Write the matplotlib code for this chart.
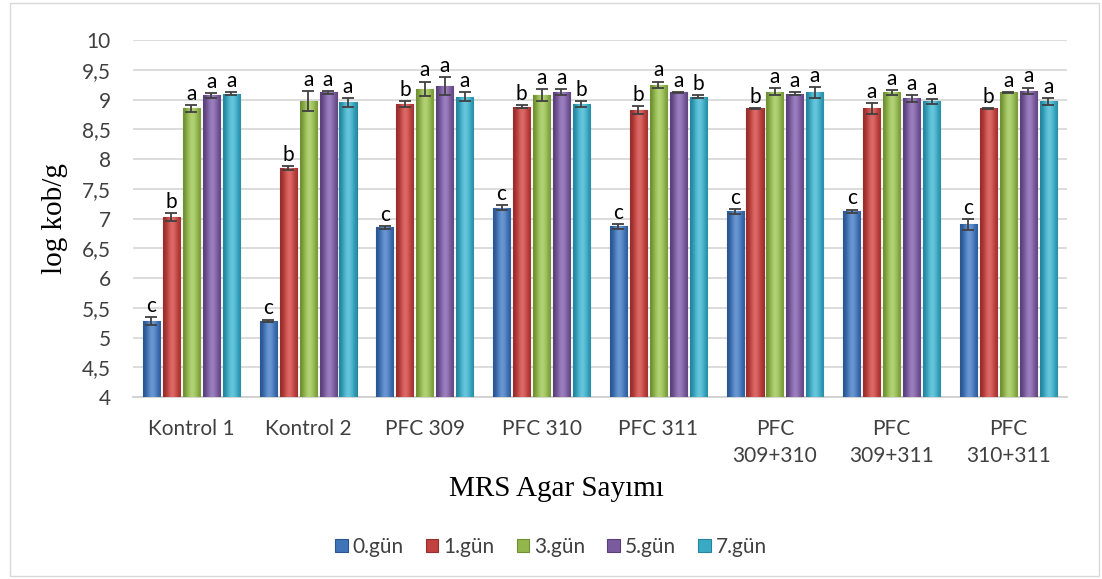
import matplotlib
matplotlib.use('Agg')
import matplotlib.pyplot as plt
import numpy as np
from matplotlib.patches import Rectangle
from matplotlib.colors import LinearSegmentedColormap

categories = ['Kontrol 1', 'Kontrol 2', 'PFC 309', 'PFC 310', 'PFC 311',
              'PFC\n309+310', 'PFC\n309+311', 'PFC\n310+311']
series_names = ['0.gün', '1.gün', '3.gün', '5.gün', '7.gün']

day0 = [5.28, 5.28, 6.85, 7.18, 6.87, 7.12, 7.12, 6.90]
day1 = [7.02, 7.85, 8.93, 8.88, 8.82, 8.85, 8.85, 8.85]
day3 = [8.85, 8.97, 9.18, 9.08, 9.25, 9.13, 9.12, 9.12]
day5 = [9.07, 9.12, 9.22, 9.13, 9.12, 9.10, 9.02, 9.15]
day7 = [9.10, 8.95, 9.05, 8.92, 9.05, 9.12, 8.97, 8.97]

err0 = [0.07, 0.02, 0.02, 0.04, 0.04, 0.04, 0.03, 0.09]
err1 = [0.07, 0.03, 0.05, 0.03, 0.07, 0.01, 0.09, 0.01]
err3 = [0.06, 0.17, 0.12, 0.10, 0.05, 0.06, 0.04, 0.01]
err5 = [0.04, 0.02, 0.15, 0.05, 0.01, 0.03, 0.06, 0.05]
err7 = [0.03, 0.07, 0.07, 0.05, 0.02, 0.09, 0.04, 0.06]

letters0 = ['c', 'c', 'c', 'c', 'c', 'c', 'c', 'c']
letters1 = ['b', 'b', 'b', 'b', 'b', 'b', 'a', 'b']
letters3 = ['a', 'a', 'a', 'a', 'a', 'a', 'a', 'a']
letters5 = ['a', 'a', 'a', 'a', 'a', 'a', 'a', 'a']
letters7 = ['a', 'a', 'a', 'b', 'b', 'a', 'a', 'a']

yticks = np.arange(4, 10.01, 0.5)
ytick_labels = ['4', '4,5', '5', '5,5', '6', '6,5', '7', '7,5', '8', '8,5', '9', '9,5', '10']

colors = ['#3f74b8', '#c0413e', '#93b64c', '#7a5b9e', '#3aaac4']
darks = ['#2a5590', '#962e2c', '#6e8f33', '#5a4079', '#24849c']
lights = ['#6f9ad4', '#de6e6a', '#b5d47a', '#9f82c2', '#6cc8de']

values = [day0, day1, day3, day5, day7]
errors = [err0, err1, err3, err5, err7]
letters = [letters0, letters1, letters3, letters5, letters7]

plt.rcParams['font.family'] = ['Lato', 'DejaVu Sans']

fig = plt.figure(figsize=(11.02, 5.79), dpi=100)
ax = fig.add_axes([0.1207, 0.3143, 0.8473, 0.6166])

x = np.arange(len(categories))
pitch = 0.171
width = 0.146
# cylinder-like shading across each bar
shade = np.array([[0.0, 0.35, 0.75, 1.0, 0.85, 0.55, 0.15]])
for i in range(5):
    xs = x + (i - 2) * pitch
    cmap = LinearSegmentedColormap.from_list('c%d' % i, [darks[i], colors[i], lights[i]])
    bars = ax.bar(xs, np.array(values[i]) - 4, width, bottom=4, color=colors[i],
                  edgecolor=darks[i], linewidth=0.8, label=series_names[i], zorder=3)
    for b in bars:
        bx, by = b.get_x(), b.get_y()
        im = ax.imshow(shade, cmap=cmap, vmin=0, vmax=1, aspect='auto',
                       extent=[bx, bx + b.get_width(), by, by + b.get_height()],
                       interpolation='bicubic', zorder=3.5)
        im.set_clip_path(b)
    ax.errorbar(xs, values[i], yerr=errors[i], fmt='none', ecolor='#404040',
                elinewidth=1.3, capsize=4.5, capthick=1.3, zorder=4)
    for j in range(len(categories)):
        ax.text(xs[j], values[i][j] + errors[i][j] + 0.02, letters[i][j],
                ha='center', va='bottom', fontsize=15, color='black', zorder=5)

ax.set_ylim(4, 10)
ax.set_xlim(-0.5, len(categories) - 0.5)
ax.set_yticks(yticks)
ax.set_yticklabels(ytick_labels, fontsize=15, color='#404040')
ax.set_xticks(x)
ax.set_xticklabels(categories, fontsize=15, color='#404040', linespacing=1.45)
ax.tick_params(axis='y', length=0, pad=16)
ax.tick_params(axis='x', length=0, pad=16)
ax.yaxis.grid(True, color='#d9d9d9', linewidth=1.3, zorder=0)
ax.set_axisbelow(True)
for s in ['top', 'right', 'left']:
    ax.spines[s].set_visible(False)
ax.spines['bottom'].set_color('#d0d0d0')
ax.spines['bottom'].set_linewidth(1.3)

ax.set_ylabel('log kob/g', fontsize=21, family='Liberation Serif', labelpad=10)
fig.text(0.505, 0.155, 'MRS Agar Sayımı', fontsize=21, family='Liberation Serif',
         ha='center', va='center')

handles, labels = ax.get_legend_handles_labels()
fig.legend(handles, labels, loc='center', bbox_to_anchor=(0.5, 0.055), ncol=5,
           frameon=False, fontsize=15, handlelength=0.6, handleheight=0.6,
           handletextpad=0.25, columnspacing=1.05, labelcolor='#404040')

fig.patches.append(Rectangle((0.009, 0.005), 0.988, 0.99, transform=fig.transFigure,
                             fill=False, edgecolor='#d9d9d9', linewidth=1))

fig.savefig('out.png', dpi=100)
